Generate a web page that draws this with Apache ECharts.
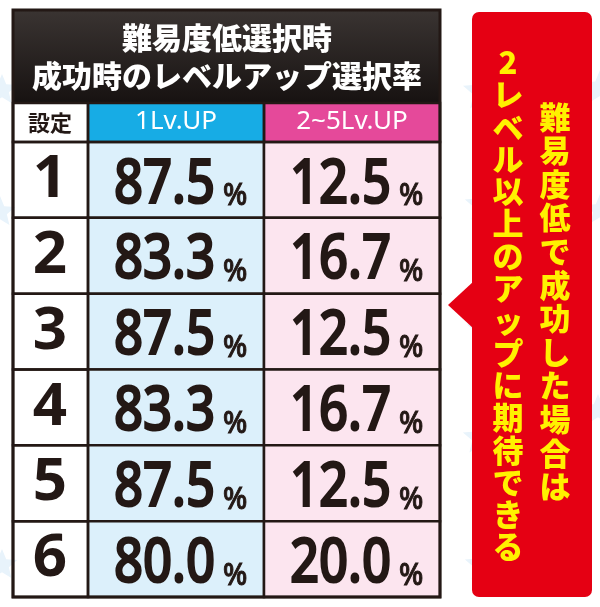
<!DOCTYPE html>
<html><head><meta charset="utf-8">
<script src="https://cdn.jsdelivr.net/npm/echarts@6/dist/echarts.min.js"></script>
<style>html,body{margin:0;padding:0;background:#fff}#c{width:600px;height:607px}</style>
</head><body><div id="c"></div>
<script>
const settings = ['1','2','3','4','5','6'];
const columns = ['1Lv.UP','2~5Lv.UP'];
const oneLvUp = [87.5,83.3,87.5,83.3,87.5,80.0];
const multiLvUp = [12.5,16.7,12.5,16.7,12.5,20.0];
const titleLines = ['難易度低選択時','成功時のレベルアップ選択率'];
const settingHeader = '設定';
const calloutRight = '難易度低で成功した場合は';
const calloutLeft = '2レベル以上のアップに期待できる';

const INK = '#231815';
const cellData = [];
settings.forEach((s, r) => {
  cellData.push([0, r, oneLvUp[r]]);
  cellData.push([1, r, multiLvUp[r]]);
});

function star(cx, cy, R) {
  const pts = [];
  for (let i = 0; i < 10; i++) {
    const a = -Math.PI / 2 + i * Math.PI / 5;
    const rr = i % 2 ? R * 0.45 : R;
    pts.push([cx + rr * Math.cos(a), cy + rr * Math.sin(a)]);
  }
  return { type: 'polygon', z: -20, shape: { points: pts }, style: { fill: '#e8f3fb' } };
}

const chart = echarts.init(document.getElementById('c'));
const graphics = [
  star(2, 90, 16), star(0, 212, 16), star(2, 565, 16),
  star(482, 92, 20), star(600, 88, 18), star(482, 205, 18), star(600, 210, 16),
  star(484, 330, 18), star(598, 410, 16), star(480, 438, 18), star(482, 565, 18),
  // title block
  { type: 'rect', z: -5, shape: { x: 13, y: 10, width: 427, height: 93 },
    style: { fill: { type: 'linear', x: 0, y: 0, x2: 0, y2: 1,
      colorStops: [{ offset: 0, color: '#3a3432' }, { offset: 1, color: '#171211' }] } } },
  { type: 'text', z: 50, x: 227, y: 38, style: { text: titleLines[0], fill: '#fff',
      font: '900 30px "Noto Sans CJK JP"', align: 'center', verticalAlign: 'middle' } },
  { type: 'text', z: 50, x: 227, y: 76, style: { text: titleLines[1], fill: '#fff',
      font: '900 30px "Noto Sans CJK JP"', align: 'center', verticalAlign: 'middle' } },
  // header row backgrounds
  { type: 'rect', z: -5, shape: { x: 13, y: 103, width: 75, height: 39 }, style: { fill: '#fff' } },
  { type: 'rect', z: -5, shape: { x: 88, y: 103, width: 176, height: 39 }, style: { fill: '#17ace5' } },
  { type: 'rect', z: -5, shape: { x: 264, y: 103, width: 176, height: 39 }, style: { fill: '#e5499a' } },
  { type: 'text', z: 50, x: 50, y: 123, style: { text: settingHeader, fill: INK,
      font: 'bold 22px "Noto Sans CJK JP"', align: 'center', verticalAlign: 'middle' } },
  // header row borders
  { type: 'rect', z: 60, shape: { x: 13, y: 103, width: 75, height: 39 }, style: { fill: 'none', stroke: INK, lineWidth: 2.5 } },
  { type: 'rect', z: 60, shape: { x: 88, y: 103, width: 176, height: 39 }, style: { fill: 'none', stroke: INK, lineWidth: 2.5 } },
  { type: 'rect', z: 60, shape: { x: 264, y: 103, width: 176, height: 39 }, style: { fill: 'none', stroke: INK, lineWidth: 2.5 } },
  // outer frame
  { type: 'rect', z: 61, shape: { x: 13, y: 10, width: 427, height: 587 }, style: { fill: 'none', stroke: INK, lineWidth: 3 } },
  // callout
  { type: 'rect', z: 5, shape: { x: 472, y: 12, width: 120, height: 585, r: 7 }, style: { fill: '#e50013' } },
  { type: 'polygon', z: 5, shape: { points: [[474, 281], [448, 305], [474, 329]] }, style: { fill: '#e50013' } },
  { type: 'text', z: 50, x: 555, y: 100, style: { text: calloutRight.split('').join('\n'), fill: '#fff100',
      font: '900 31px "Noto Sans CJK JP"', lineHeight: 33.6, align: 'center', verticalAlign: 'top' } },
  { type: 'text', z: 50, x: 508, y: 46, style: { text: calloutLeft.split('').join('\n'), fill: '#fff100',
      font: '900 31px "Noto Sans CJK JP"', lineHeight: 32.3, align: 'center', verticalAlign: 'top' } }
];

chart.setOption({
  animation: false,
  grid: { left: 88, right: 160, top: 142, bottom: 10 },
  xAxis: {
    type: 'category', data: columns, position: 'top',
    axisLine: { show: false }, axisTick: { show: false }, splitLine: { show: false },
    axisLabel: { color: '#fff', fontSize: 26, fontFamily: 'Noto Sans', margin: 20,
      verticalAlign: 'middle', interval: 0 }
  },
  yAxis: {
    type: 'category', data: settings, inverse: true,
    axisLine: { show: false }, axisTick: { show: false }, splitLine: { show: false },
    axisLabel: { color: INK, fontSize: 60, fontWeight: 'bold', fontFamily: 'Noto Sans',
      align: 'center', verticalAlign: 'middle', margin: 38, interval: 0 }
  },
  graphic: graphics,
  series: [{
    type: 'custom', z: 2, data: cellData,
    renderItem: function (params, api) {
      const xi = api.value(0), yi = api.value(1), v = api.value(2);
      const c = api.coord([xi, yi]);
      const s = api.size([1, 1]);
      const x0 = c[0] - s[0] / 2, y0 = c[1] - s[1] / 2;
      const children = [
        { type: 'rect', shape: { x: x0, y: y0, width: s[0], height: s[1] },
          style: { fill: xi === 0 ? '#dcf0fb' : '#fce5ef', stroke: INK, lineWidth: 2.5 } },
        { type: 'text', x: c[0] + 39, y: c[1] + 5, scaleX: 0.82,
          style: { text: v.toFixed(1), fill: INK, stroke: INK, lineWidth: 2.2,
            font: '500 62px "Noto Sans"', align: 'right', verticalAlign: 'middle' } },
        { type: 'text', x: c[0] + 47, y: c[1] + 17, scaleX: 0.95,
          style: { text: '%', fill: INK, stroke: INK, lineWidth: 0.9,
            font: '500 30px "Noto Sans"', align: 'left', verticalAlign: 'middle' } }
      ];
      if (xi === 0) {
        children.push({ type: 'rect', shape: { x: 13, y: y0, width: x0 - 13, height: s[1] },
          style: { fill: 'none', stroke: INK, lineWidth: 2.5 } });
      }
      return { type: 'group', children: children };
    }
  }]
});
</script></body></html>
